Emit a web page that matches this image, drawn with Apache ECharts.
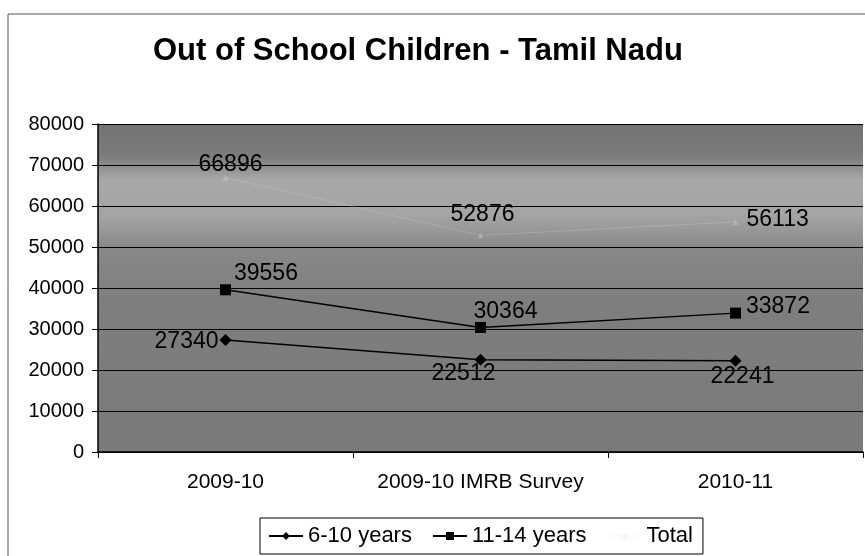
<!DOCTYPE html>
<html>
<head>
<meta charset="utf-8">
<script src="https://cdn.jsdelivr.net/npm/echarts@6/dist/echarts.min.js"></script>
<style>
html,body{margin:0;padding:0;background:#fff;}
#chart{width:865px;height:556px;}
</style>
</head>
<body>
<div id="chart"></div>
<script>
var categories = ['2009-10', '2009-10 IMRB Survey', '2010-11'];
var seriesNames = ['6-10 years', '11-14 years', 'Total'];
var age6to10 = [27340, 22512, 22241];
var age11to14 = [39556, 30364, 33872];
var total = [66896, 52876, 56113];
var yTicks = [0, 10000, 20000, 30000, 40000, 50000, 60000, 70000, 80000];

// label placement styling (not data)
var place6to10 = [{position:'left', offset:[4,2]}, {position:'bottom', offset:[-17,-9]}, {position:'bottom', offset:[7,-7]}];
var place11to14 = [{position:'right', offset:[-2,-16]}, {position:'top', offset:[25,6]}, {position:'right', offset:[0,-6]}];
var placeTotal = [{position:'top', offset:[5,6]}, {position:'top', offset:[2,-1]}, {position:'right', offset:[3,-2]}];

function withLabels(values, places) {
  return values.map(function (v, i) {
    return { value: v, label: { position: places[i].position, offset: places[i].offset } };
  });
}

var labelStyle = { show: true, color: '#000', fontFamily: 'Liberation Sans, Arial', fontSize: 23, distance: 5 };

var chart = echarts.init(document.getElementById('chart'), null, { renderer: 'canvas' });
var option = {
  animation: false,
  backgroundColor: '#fff',
  title: {
    text: 'Out of School Children - Tamil Nadu',
    left: 148,
    top: 31,
    textStyle: { fontFamily: 'Liberation Sans, Arial', fontWeight: 'bold', fontSize: 31, color: '#000' }
  },
  graphic: [
    { type: 'rect', shape: { x: 8, y: 14, width: 900, height: 600 }, style: { fill: 'none', stroke: '#555', lineWidth: 1 }, z: -1 }
  ],
  grid: {
    left: 98, right: 2, top: 124, bottom: 104,
    show: true,
    borderWidth: 0,
    backgroundColor: new echarts.graphic.LinearGradient(0, 0, 0, 1, [
      { offset: 0, color: '#727272' },
      { offset: 0.1, color: '#7c7c7c' },
      { offset: 0.17, color: '#a8a8a8' },
      { offset: 0.28, color: '#a4a4a4' },
      { offset: 0.38, color: '#888888' },
      { offset: 0.55, color: '#7e7e7e' },
      { offset: 1, color: '#7a7a7a' }
    ])
  },
  legend: {
    data: seriesNames,
    left: 260, top: 518,
    padding: [7, 10, 7, 8],
    itemGap: 20,
    itemWidth: 34, itemHeight: 10,
    borderColor: '#000', borderWidth: 1,
    textStyle: { fontFamily: 'Liberation Sans, Arial', fontSize: 22, color: '#000' }
  },
  xAxis: {
    type: 'category',
    data: categories,
    boundaryGap: true,
    axisLine: { lineStyle: { color: '#000', width: 1.5 } },
    axisTick: { show: true, length: 6, lineStyle: { color: '#000' } },
    axisLabel: { interval: 0, color: '#000', fontFamily: 'Liberation Sans, Arial', fontSize: 21, margin: 20 }
  },
  yAxis: {
    type: 'value',
    min: yTicks[0], max: yTicks[yTicks.length - 1], interval: 10000,
    axisLine: { show: true, lineStyle: { color: '#000', width: 1.5 } },
    axisTick: { show: true, length: 6, lineStyle: { color: '#000' } },
    axisLabel: { color: '#000', fontFamily: 'Liberation Sans, Arial', fontSize: 20, margin: 14,
      formatter: function (v) { return String(v); } },
    splitLine: { show: true, lineStyle: { color: '#000', width: 1.2 } }
  },
  series: [
    {
      name: seriesNames[0], type: 'line',
      data: withLabels(age6to10, place6to10),
      symbol: 'diamond', symbolSize: 12,
      lineStyle: { color: '#000', width: 1.5 },
      itemStyle: { color: '#000' },
      label: labelStyle
    },
    {
      name: seriesNames[1], type: 'line',
      data: withLabels(age11to14, place11to14),
      symbol: 'rect', symbolSize: 11,
      lineStyle: { color: '#000', width: 1.5 },
      itemStyle: { color: '#000' },
      label: labelStyle
    },
    {
      name: seriesNames[2], type: 'line',
      data: withLabels(total, placeTotal),
      symbol: 'triangle', symbolSize: 6,
      lineStyle: { color: 'rgba(230,230,230,0.2)', width: 1 },
      itemStyle: { color: 'rgba(230,230,230,0.3)' },
      label: labelStyle
    }
  ]
};
chart.setOption(option);
</script>
</body>
</html>
